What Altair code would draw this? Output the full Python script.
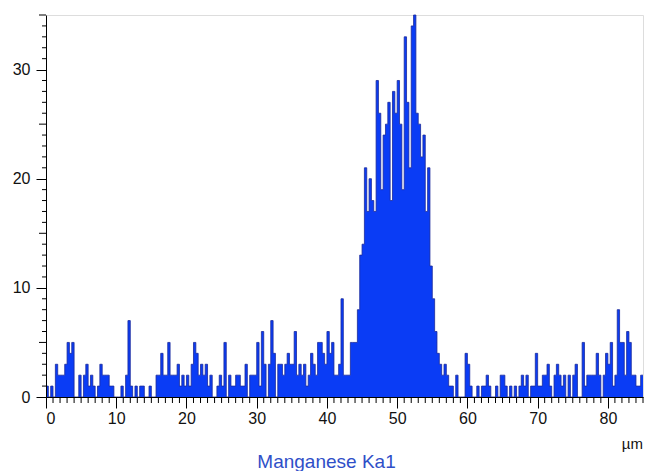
import altair as alt
import pandas as pd

# Manganese Ka1 line-scan counts, one value per bin of 1/3 µm (0 – 85 µm)
counts = [
    1, 0, 1, 0, 3, 2, 2, 2, 3, 5, 4, 5, 0, 0, 2, 0, 2, 3, 1, 2,
    1, 0, 1, 3, 2, 2, 2, 1, 1, 0, 0, 0, 1, 0, 2, 7, 1, 0, 1, 0,
    1, 1, 0, 0, 1, 0, 0, 2, 2, 4, 2, 2, 5, 2, 2, 2, 3, 1, 2, 1,
    2, 1, 3, 5, 4, 2, 3, 2, 3, 1, 2, 0, 0, 1, 2, 1, 5, 0, 2, 1,
    1, 2, 2, 1, 1, 3, 0, 2, 2, 2, 5, 1, 6, 3, 0, 3, 7, 4, 0, 3,
    3, 2, 3, 4, 3, 3, 6, 2, 3, 2, 3, 1, 2, 4, 3, 2, 5, 5, 4, 3,
    6, 4, 5, 2, 2, 3, 9, 2, 2, 2, 5, 5, 5, 8, 13, 14, 21, 17, 20, 18,
    17, 29, 26, 19, 24, 25, 27, 18, 28, 26, 29, 25, 19, 33, 27, 21, 34, 35, 26, 25,
    22, 24, 17, 21, 12, 9, 6, 4, 3, 2, 3, 2, 1, 1, 0, 2, 0, 0, 0, 4,
    3, 1, 0, 0, 1, 0, 1, 1, 2, 1, 0, 0, 1, 0, 2, 2, 1, 0, 1, 0,
    1, 0, 1, 2, 1, 2, 0, 1, 1, 4, 1, 1, 2, 2, 3, 1, 0, 2, 3, 2,
    1, 2, 0, 2, 0, 2, 3, 0, 0, 5, 1, 2, 2, 2, 2, 4, 2, 0, 2, 4,
    3, 5, 1, 2, 8, 5, 5, 2, 6, 5, 2, 2, 1, 1, 2,
]
BIN_WIDTH_UM = 1.0 / 3.0
X_MAX = 85
Y_MAX = 35
x_major = [0, 10, 20, 30, 40, 50, 60, 70, 80]
x_minor = [v for v in range(0, 86) if v % 10 != 0]
y_major = [0, 10, 20, 30]
y_mid = [5, 15, 25, 35]
y_minor = [v for v in range(0, 36) if v % 5 != 0]
title_text = "Manganese Ka1"
unit_text = "µm"

edges = [i * BIN_WIDTH_UM for i in range(len(counts))] + [len(counts) * BIN_WIDTH_UM]
vals = counts + [counts[-1]]
df = pd.DataFrame({"x": edges, "y": vals})

FONT = "Liberation Sans"
W, H = 597, 382
xscale = alt.Scale(domain=[0, X_MAX], nice=False, zero=False)
yscale = alt.Scale(domain=[0, Y_MAX], nice=False)

base = alt.Chart(df)

area = base.mark_area(interpolate="step-after", color="#0a3cf5").encode(
    x=alt.X("x:Q", scale=xscale, axis=alt.Axis(
        values=x_major, tickSize=11, labelPadding=2, orient="bottom",
        labelFontSize=16, labelFont=FONT, labelColor="#111111",
        domainColor="black", tickColor="black", zindex=1, grid=False,
        title=title_text, titleColor="#2f4fc8", titleFont=FONT,
        titleFontSize=19, titleFontWeight="normal", titleX=280, titleY=70,
        titleBaseline="alphabetic", titleAlign="center")),
    y=alt.Y("y:Q", scale=yscale, axis=alt.Axis(
        values=y_major, tickSize=10, labelPadding=6, orient="left",
        labelFontSize=16, labelFont=FONT, labelColor="#111111",
        domainColor="black", tickColor="black", zindex=1, grid=False, title=None)),
)

line = base.mark_line(interpolate="step-after", color="#1a2a9a", strokeWidth=0.8).encode(
    x=alt.X("x:Q", scale=xscale),
    y=alt.Y("y:Q", scale=yscale),
)

# minor tick marks positioned through the shared scales
xminor = alt.Chart(pd.DataFrame({"v": x_minor})).mark_rule(color="black", strokeWidth=1).encode(
    x=alt.X("v:Q", scale=xscale), y=alt.value(H), y2=alt.value(H + 6))
ymid = alt.Chart(pd.DataFrame({"v": y_mid})).mark_rule(color="black", strokeWidth=1).encode(
    y=alt.Y("v:Q", scale=yscale), x=alt.value(-7), x2=alt.value(0))
yminor = alt.Chart(pd.DataFrame({"v": y_minor})).mark_rule(color="black", strokeWidth=1).encode(
    y=alt.Y("v:Q", scale=yscale), x=alt.value(-4), x2=alt.value(0))

unit = alt.Chart(pd.DataFrame({"t": [unit_text]})).mark_text(
    align="right", baseline="alphabetic", fontSize=15, font=FONT, color="#111111"
).encode(x=alt.value(W), y=alt.value(434), text="t:N")

chart = (
    alt.layer(area, line, xminor, ymid, yminor, unit)
    .properties(
        width=W, height=H,
        autosize=alt.AutoSizeParams(type="none"),
        padding={"left": 46, "top": 15, "right": 3, "bottom": 74},
    )
    .configure_view(stroke=None)
    .configure(background="white")
)

chart.save("out.html", embed_options={"renderer": "svg", "actions": False})
